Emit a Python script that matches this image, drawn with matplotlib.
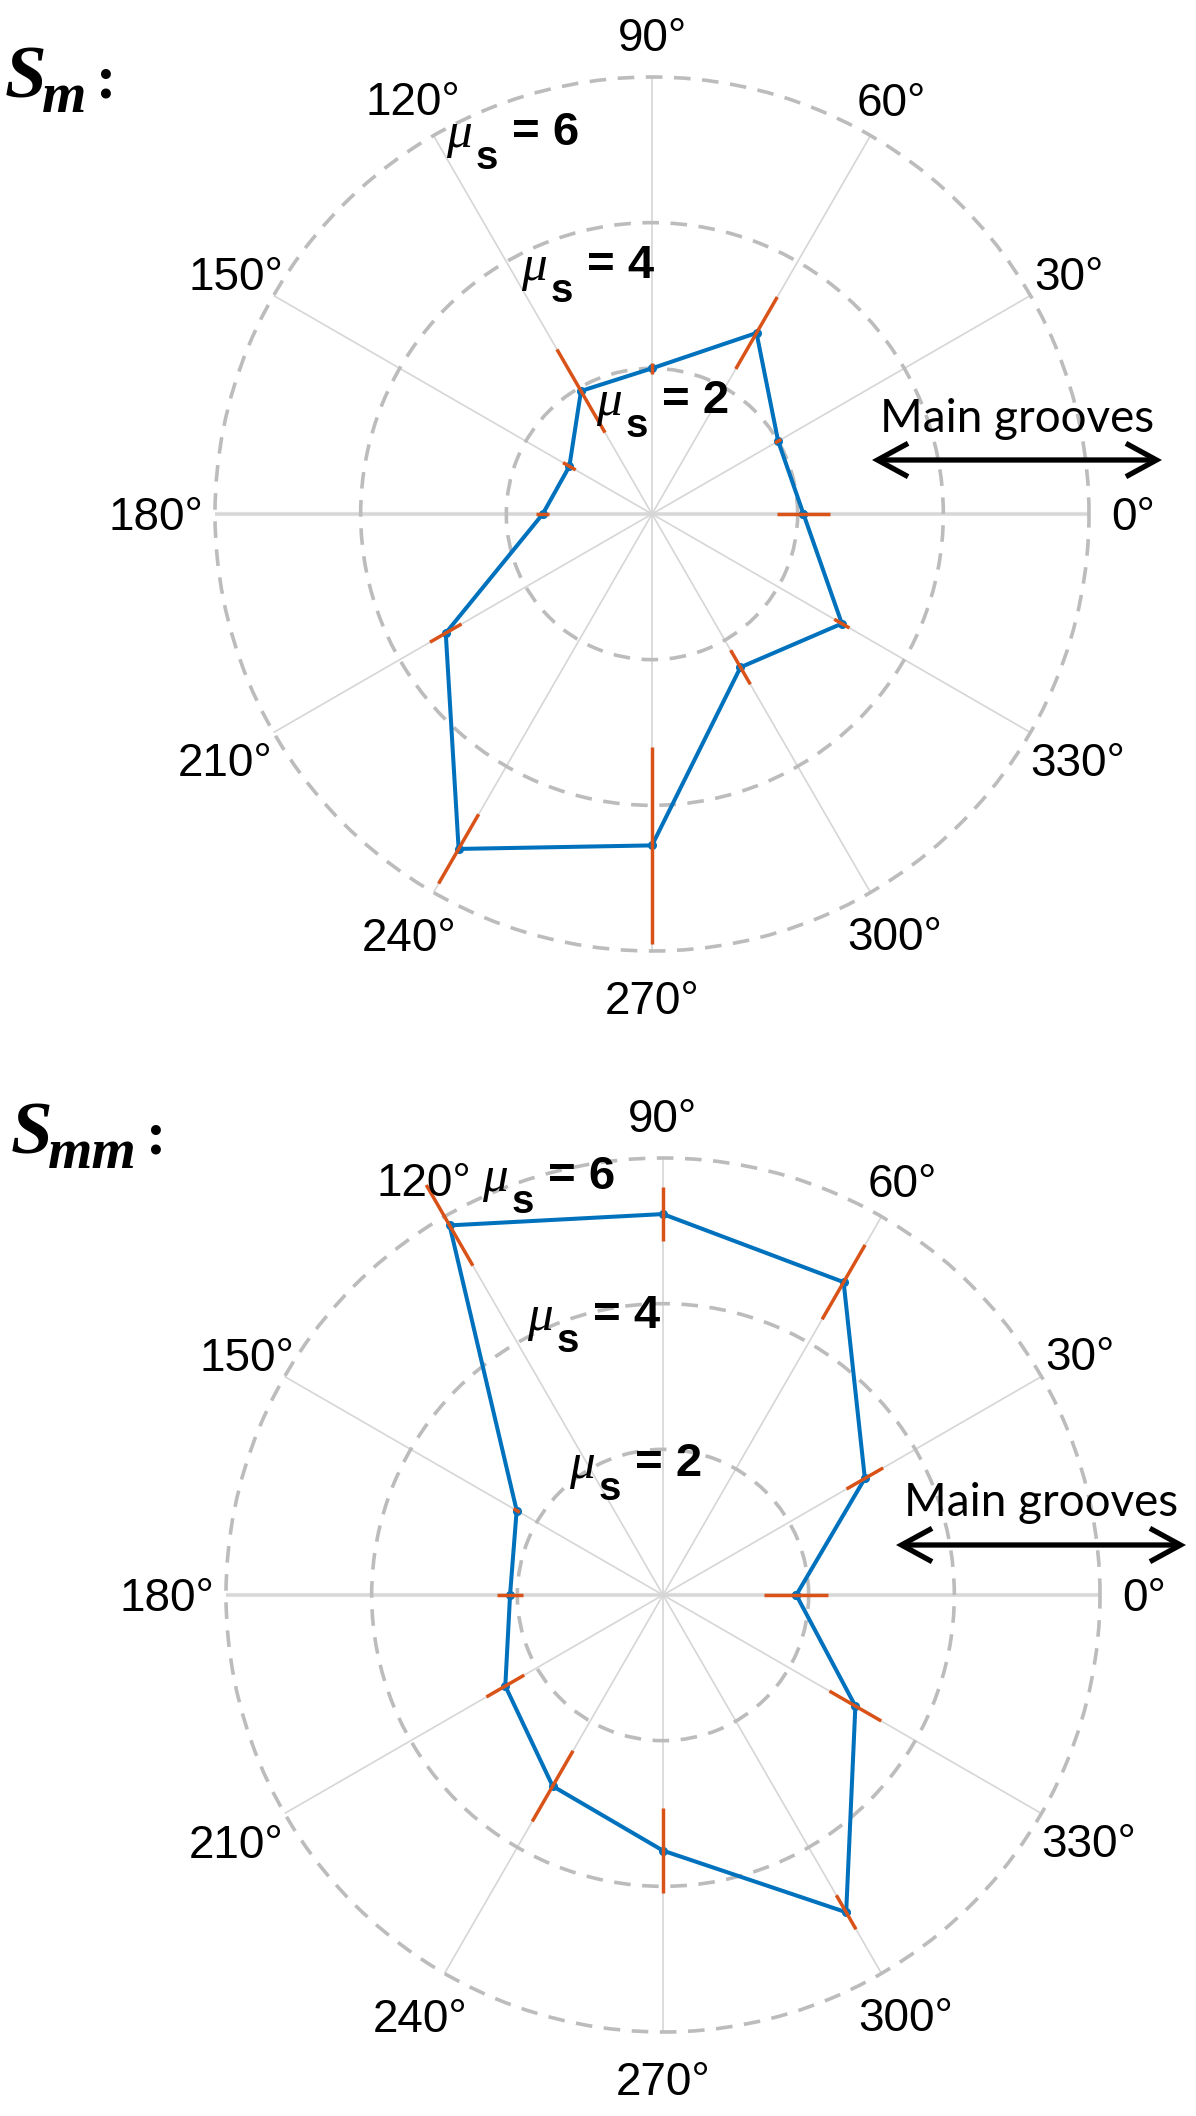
import numpy as np
import matplotlib
matplotlib.use("Agg")
import matplotlib.pyplot as plt
from matplotlib.patches import FancyArrowPatch, ArrowStyle

W, H = 1196, 2116

angles_deg = [0, 30, 60, 90, 120, 150, 180, 210, 240, 270, 300, 330]
tick_labels = ["0°", "30°", "60°", "90°", "120°", "150°", "180°", "210°", "240°", "270°", "300°", "330°"]
ring_values = [2, 4, 6]

# S_m
sm_mean = [2.08, 2.00, 2.87, 2.00, 1.95, 1.31, 1.50, 3.27, 5.31, 4.55, 2.43, 3.01]
sm_err = [0.37, 0.05, 0.57, 0.08, 0.66, 0.10, 0.09, 0.25, 0.55, 1.35, 0.27, 0.12]

# S_mm
smm_mean = [1.83, 3.20, 4.96, 5.23, 5.86, 2.32, 2.10, 2.50, 3.03, 3.51, 5.03, 3.05]
smm_err = [0.44, 0.29, 0.59, 0.37, 0.64, 0.05, 0.18, 0.30, 0.56, 0.58, 0.27, 0.41]

BLUE = "#0072BD"
ORANGE = "#D95319"
R = 437  # px radius of the r=6 ring

# distance (px) of each angle label centre from the polar centre
label_r = [481, 481, 478, 479, 479, 480, 496, 493, 486, 484, 485, 492]


def fxy(x, y):
    return x / W, 1 - y / H


fig = plt.figure(figsize=(W / 100, H / 100), dpi=100)


def panel(cx, cy, mean, err, mu_pos, groove_x, groove_y, arrow_x, arrow_y):
    ax = fig.add_axes([(cx - R) / W, 1 - (cy + R) / H, 2 * R / W, 2 * R / H],
                      projection="polar")
    ax.set_theta_zero_location("E")
    ax.set_ylim(0, 6)
    ax.set_thetagrids(angles_deg, labels=[""] * len(angles_deg))
    ax.set_rgrids(ring_values, labels=[""] * len(ring_values))
    ax.xaxis.grid(True, color="#d6d6d6", lw=1.2, ls="-")
    ax.yaxis.grid(True, color="#bcbcbc", lw=2.6, ls=(0, (4.6, 3.2)))
    for gl in ax.yaxis.get_gridlines():
        gl.set_clip_on(False)
    ax.spines["polar"].set_visible(False)
    ax.set_axisbelow(True)
    ax.tick_params(length=0)
    ax.axvline(0, color="#e0e0e0", lw=3.0, zorder=0.5)
    ax.axvline(np.pi, color="#e0e0e0", lw=3.0, zorder=0.5)

    th = np.deg2rad(angles_deg + [angles_deg[0]])
    rr = mean + [mean[0]]
    ax.plot(th, rr, color=BLUE, lw=2.9, marker="o", ms=5.5, zorder=3)
    eb = ax.errorbar(np.deg2rad(angles_deg), mean, yerr=err, fmt="none",
                     ecolor=ORANGE, elinewidth=2.5, capsize=0, zorder=4)
    for c in eb.lines[2]:
        c.set_clip_on(False)

    for a, lab, rl in zip(angles_deg, tick_labels, label_r):
        t = np.deg2rad(a)
        x = cx + rl * np.cos(t)
        y = cy - rl * np.sin(t) + 16
        fig.text(*fxy(x, y), lab, ha="center", va="baseline", fontsize=33,
                 family="Liberation Sans")

    # mu_pos is listed from the outer ring label to the inner one
    for (xe, ye), n in zip(mu_pos, ring_values[::-1]):
        fig.text(*fxy(xe, ye + 16), f"= {n}", ha="left", va="baseline",
                 fontsize=34, fontweight="bold", family="Liberation Sans")
        fig.text(*fxy(xe - 66, ye + 18), "μ", ha="left", va="baseline",
                 fontsize=37, style="italic", family="Liberation Serif")
        fig.text(*fxy(xe - 36, ye + 40), "s", ha="left", va="baseline",
                 fontsize=29, fontweight="bold", family="Liberation Sans")

    fig.text(*fxy(groove_x, groove_y), "Main grooves", ha="center",
             va="baseline", fontsize=33, family="Lato")
    arr = FancyArrowPatch(fxy(arrow_x[0], arrow_y), fxy(arrow_x[1], arrow_y),
                          transform=fig.transFigure,
                          arrowstyle=ArrowStyle("<->", head_length=1.1, head_width=0.6),
                          mutation_scale=20, lw=3.8, color="black",
                          shrinkA=0, shrinkB=0, joinstyle="miter", capstyle="butt")
    fig.add_artist(arr)
    return ax


panel(652, 514, sm_mean, sm_err,
      [(512, 129), (587, 262), (662, 397)],
      1017, 432, (872, 1162), 460)
panel(663, 1595, smm_mean, smm_err,
      [(548, 1173), (593, 1312), (635, 1460)],
      1041, 1516, (896, 1186), 1545)

# panel titles
serif = "Liberation Serif"
fig.text(*fxy(5, 98), "S", fontsize=54, fontweight="bold", style="italic", family=serif)
fig.text(*fxy(42, 112), "m", fontsize=41, fontweight="bold", style="italic", family=serif)
fig.text(*fxy(96, 98), ":", fontsize=44, fontweight="bold", family=serif)

fig.text(*fxy(11, 1153), "S", fontsize=54, fontweight="bold", style="italic", family=serif)
fig.text(*fxy(48, 1168), "mm", fontsize=41, fontweight="bold", style="italic", family=serif)
fig.text(*fxy(146, 1153), ":", fontsize=44, fontweight="bold", family=serif)

fig.savefig("out.png", dpi=100)
